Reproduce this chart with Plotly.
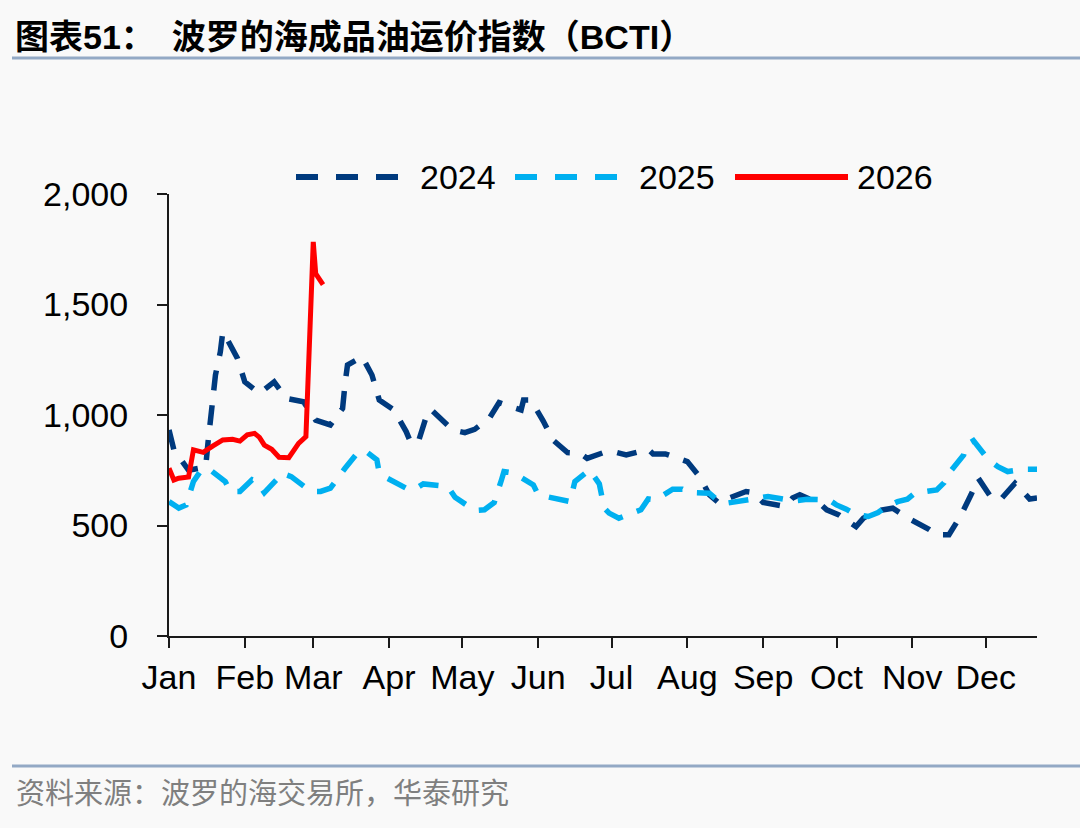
import plotly.graph_objects as go

# ---------------- data ----------------
REF_YEAR = "2025"  # seasonal overlay: every year drawn on a common Jan–Dec axis
MONTHS = ["Jan", "Feb", "Mar", "Apr", "May", "Jun", "Jul", "Aug", "Sep", "Oct", "Nov", "Dec"]
MONTH_STARTS = ["01-01", "02-01", "03-01", "04-01", "05-01", "06-01",
                "07-01", "08-01", "09-01", "10-01", "11-01", "12-01"]
Y_TICKS = [0, 500, 1000, 1500, 2000]

dates_2024 = ["01-01", "01-03", "01-09", "01-13", "01-16", "01-17", "01-18", "01-19", "01-20", "01-22",
              "01-23", "01-25", "01-29", "02-01", "02-07", "02-13", "02-18", "02-25", "03-02", "03-08",
              "03-13", "03-14", "03-15", "03-21", "03-25", "03-28", "04-03", "04-08", "04-10", "04-13",
              "04-16", "04-18", "04-21", "04-27", "05-02", "05-06", "05-12", "05-16", "05-20", "05-25",
              "05-26", "05-29", "06-03", "06-07", "06-13", "06-18", "06-21", "06-28", "07-03", "07-07",
              "07-16", "07-18", "07-23", "08-01", "08-06", "08-10", "08-14", "08-18", "08-25", "08-28",
              "09-01", "09-10", "09-13", "09-16", "09-24", "09-27", "10-02", "10-09", "10-12", "10-17",
              "10-24", "10-31", "11-08", "11-11", "11-16", "11-21", "11-25", "11-28", "12-03", "12-07",
              "12-13", "12-19", "12-22"]
vals_2024 = [932, 842, 750, 760, 765, 880, 977, 1083, 1181, 1286,
             1376, 1339, 1256, 1150, 1098, 1150, 1075, 1060, 977, 955,
             1030, 1143, 1226, 1263, 1181, 1068, 1023, 925, 872, 880,
             985, 1026, 995, 932, 920, 935, 985, 1056, 1040, 1023,
             1068, 1068, 974, 887, 830, 827, 804, 831, 831, 819,
             845, 824, 824, 789, 721, 639, 601, 624, 654, 649,
             604, 586, 624, 639, 601, 571, 548, 495, 533, 565,
             578, 529, 481, 458, 458, 548, 639, 714, 631, 616,
             691, 620, 624]

dates_2025 = ["01-01", "01-05", "01-08", "01-11", "01-14", "01-17", "01-24", "01-26", "01-30", "02-04",
              "02-06", "02-09", "02-14", "02-16", "02-20", "02-28", "03-04", "03-08", "03-14", "03-19",
              "03-22", "03-27", "03-28", "03-30", "04-08", "04-11", "04-15", "04-22", "04-25", "04-28",
              "05-06", "05-10", "05-14", "05-17", "05-18", "05-22", "05-30", "06-01", "06-05", "06-14",
              "06-16", "06-22", "06-26", "06-28", "06-30", "07-04", "07-13", "07-16", "07-19", "07-26",
              "07-30", "08-02", "08-10", "08-14", "08-17", "08-26", "08-30", "09-03", "09-11", "09-15",
              "09-19", "09-28", "10-01", "10-05", "10-09", "10-14", "10-18", "10-21", "10-26", "10-30",
              "11-02", "11-11", "11-14", "11-16", "11-22", "11-23", "11-26", "12-02", "12-06", "12-10",
              "12-17", "12-22"]
vals_2025 = [608, 579, 593, 699, 748, 759, 699, 654, 654, 707,
             699, 649, 707, 737, 721, 654, 654, 669, 759, 827,
             840, 797, 737, 721, 669, 661, 688, 676, 676, 628,
             568, 571, 604, 707, 744, 737, 684, 639, 631, 608,
             699, 752, 688, 579, 556, 533, 571, 620, 616, 664,
             664, 649, 646, 608, 601, 616, 624, 631, 616, 613,
             619, 616, 593, 574, 548, 541, 559, 583, 608, 619,
             646, 661, 694, 737, 819, 864, 884, 800, 766, 744,
             755, 755]

dates_2026 = ["01-01", "01-03", "01-05", "01-09", "01-11", "01-15", "01-19", "01-23", "01-27", "01-30",
              "02-02", "02-05", "02-07", "02-09", "02-12", "02-15", "02-19", "02-23", "02-26", "03-01",
              "03-02", "03-05"]
vals_2026 = [759, 706, 714, 719, 842, 831, 860, 887, 890, 882,
             910, 917, 899, 864, 845, 809, 807, 872, 902, 1783,
             1640, 1590]

series_names = ["2024", "2025", "2026"]
TITLE = "图表51：\u3000波罗的海成品油运价指数（BCTI）"
SOURCE = "资料来源：波罗的海交易所，华泰研究"

# ---------------- style ----------------
NAVY = "#003a7e"
LIGHT = "#00b0f0"
RED = "#ff0000"
BG = "#f9f9f9"
LAT = "Liberation Sans, Arial, Noto Sans CJK SC, sans-serif"
CJK = "Liberation Sans, Noto Sans CJK SC, sans-serif"

W, H = 1080, 828
PL, PR, PT, PB = 169, 1037, 194, 636  # plot area in pixels


def px(x):
    return (x - PL) / (PR - PL)


def py(y):
    return (PB - y) / (PB - PT)


def to_x(md):
    return [f"{REF_YEAR}-{d}" for d in md]


fig = go.Figure()
fig.add_trace(go.Scatter(x=to_x(dates_2024), y=vals_2024, mode="lines", name=series_names[0],
                         line=dict(color=NAVY, width=5.5, dash="20px,15px")))
fig.add_trace(go.Scatter(x=to_x(dates_2025), y=vals_2025, mode="lines", name=series_names[1],
                         line=dict(color=LIGHT, width=5.5, dash="20px,15px")))
fig.add_trace(go.Scatter(x=to_x(dates_2026), y=vals_2026, mode="lines", name=series_names[2],
                         line=dict(color=RED, width=5)))

shapes = []
annotations = []

# title and its rule
annotations.append(dict(text=f"<b>{TITLE}</b>", x=px(13), y=py(37), xref="paper", yref="paper",
                        xanchor="left", yanchor="middle", showarrow=False,
                        font=dict(family=CJK, size=34, color="#000000")))
shapes.append(dict(type="line", xref="paper", yref="paper", x0=px(12), x1=px(1080), y0=py(58), y1=py(58),
                   line=dict(color="#93a9c5", width=3)))

# source and its rule
shapes.append(dict(type="line", xref="paper", yref="paper", x0=px(12), x1=px(1080), y0=py(766), y1=py(766),
                   line=dict(color="#93a9c5", width=3)))
annotations.append(dict(text=SOURCE, x=px(14), y=py(791), xref="paper", yref="paper",
                        xanchor="left", yanchor="middle", showarrow=False,
                        font=dict(family="Noto Sans CJK SC, sans-serif", size=29, color="#7f7f7f")))

# custom legend
legend_items = [(series_names[0], NAVY, "22px,18px", 296, 410, 418),
                (series_names[1], LIGHT, "22px,18px", 515, 630, 637),
                (series_names[2], RED, "solid", 735, 848, 855)]
for name, col, dash, x0, x1, xt in legend_items:
    shapes.append(dict(type="line", xref="paper", yref="paper", x0=px(x0), x1=px(x1), y0=py(177), y1=py(177),
                       line=dict(color=col, width=6, dash=dash)))
    annotations.append(dict(text=name, x=px(xt), y=py(177), xref="paper", yref="paper",
                            xanchor="left", yanchor="middle", showarrow=False,
                            font=dict(family=LAT, size=34, color="#000000")))

fig.update_layout(
    width=W, height=H, autosize=False,
    margin=dict(l=PL, r=W - PR, t=PT, b=H - PB, pad=0),
    paper_bgcolor=BG, plot_bgcolor=BG,
    showlegend=False,
    shapes=shapes, annotations=annotations,
    font=dict(family=LAT, size=34, color="#000000"),
)
fig.update_xaxes(
    type="date", range=[f"{REF_YEAR}-01-01", f"{REF_YEAR}-12-22"],
    tickvals=to_x(MONTH_STARTS), ticktext=MONTHS,
    showgrid=False, zeroline=False, showline=True, linecolor="#1a1a1a", linewidth=2,
    ticks="outside", ticklen=10, tickwidth=2, tickcolor="#1a1a1a",
    tickfont=dict(family=LAT, size=34, color="#000000"),
)
fig.update_yaxes(
    range=[0, 2000], tickvals=Y_TICKS, tickformat=",d",
    showgrid=False, zeroline=False, showline=True, linecolor="#1a1a1a", linewidth=2,
    ticks="outside", ticklen=10, tickwidth=2, tickcolor="#1a1a1a",
    tickfont=dict(family=LAT, size=34, color="#000000"), ticklabelstandoff=22,
)

fig.write_html("out.html", config={"displayModeBar": False},
               post_script="document.body.style.margin='0px';document.body.style.background='%s';" % BG)
